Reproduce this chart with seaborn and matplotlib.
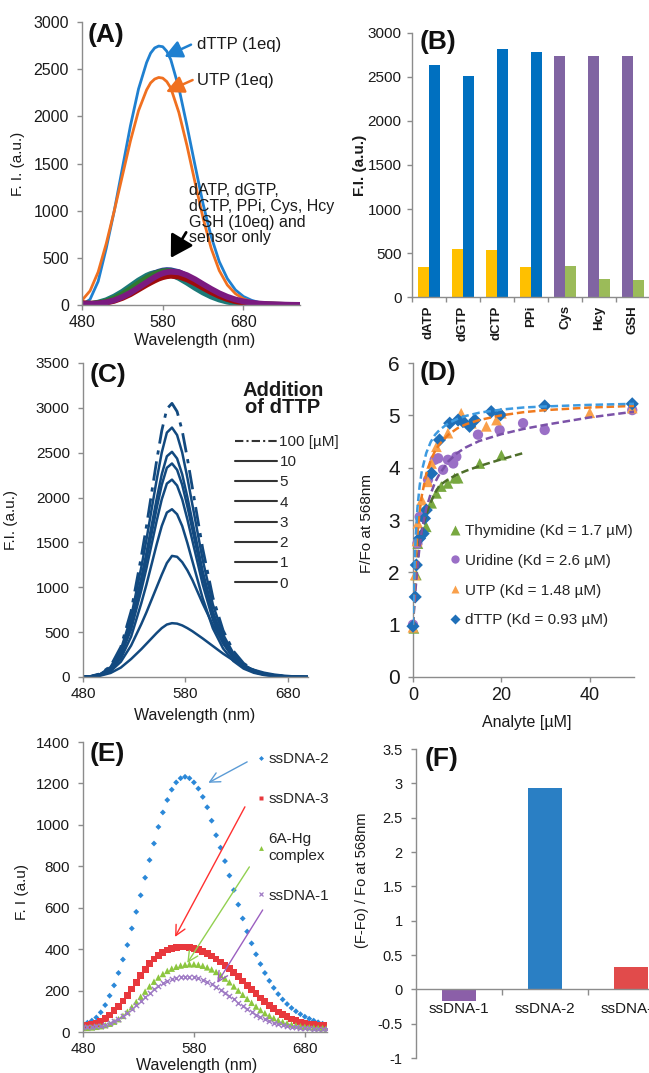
import matplotlib
matplotlib.use("Agg")
import numpy as np
import pandas as pd
import matplotlib.pyplot as plt
import seaborn as sns
from matplotlib.lines import Line2D
from matplotlib.ticker import FuncFormatter

sns.set_theme(style="ticks")
plt.rcParams['font.family'] = ['Liberation Sans', 'DejaVu Sans']

# ---------------- data ----------------
# (A) emission spectra
wl_a = [480, 490, 500, 510, 520, 530, 540, 550, 560, 565, 570, 575, 580, 585, 590,
        600, 610, 620, 630, 640, 650, 660, 670, 680, 690, 700, 710, 720, 730, 740, 750]
dttp_a = [0, 60, 250, 600, 1000, 1450, 1900, 2290, 2570, 2670, 2725, 2745, 2738, 2690, 2600,
          2300, 1900, 1480, 1070, 725, 460, 280, 160, 90, 50, 25, 10, 5, 2, 0, 0]
utp_a = [50, 150, 350, 650, 1000, 1370, 1740, 2060, 2280, 2355, 2395, 2412, 2405, 2368, 2300,
         2040, 1690, 1300, 920, 600, 365, 212, 120, 65, 35, 18, 8, 3, 1, 0, 0]
other_1 = [5, 10, 25, 50, 90, 140, 200, 260, 310, 328, 340, 345, 343, 336, 325,
           287, 237, 182, 132, 90, 58, 35, 20, 12, 7, 4, 2, 1, 0, 0, 0]
other_2 = [3, 6, 15, 33, 62, 105, 160, 222, 282, 310, 335, 353, 365, 370, 368,
           348, 307, 255, 198, 146, 101, 66, 41, 25, 15, 9, 5, 3, 1, 0, 0]
other_3 = [5, 8, 18, 38, 70, 115, 170, 230, 285, 310, 330, 346, 356, 360, 358,
           337, 297, 247, 192, 142, 98, 64, 40, 24, 14, 8, 4, 2, 1, 0, 0]
other_4 = [20, 15, 15, 25, 45, 75, 115, 165, 215, 238, 260, 280, 295, 305, 310,
           302, 272, 230, 182, 136, 96, 64, 41, 25, 15, 9, 5, 3, 1, 0, 0]
other_5 = [10, 10, 15, 28, 50, 85, 130, 185, 240, 268, 295, 318, 336, 348, 353,
           346, 316, 272, 220, 170, 124, 87, 58, 38, 24, 15, 9, 6, 4, 2, 1]

# (B) bar chart
b_cats = ['dATP', 'dGTP', 'dCTP', 'PPi', 'Cys', 'Hcy', 'GSH']
b_first = [337, 549, 538, 345, 2735, 2735, 2735]
b_second = [2633, 2508, 2814, 2780, 352, 208, 197]

# (C) titration spectra
wl_c = [477, 487, 497, 507, 517, 527, 537, 542, 547, 552, 557, 562, 567, 572, 577, 582, 587,
        597, 607, 617, 627, 637, 647, 657, 667, 677, 687, 697, 702]
c_0 = [0, 4, 15, 45, 105, 200, 310, 370, 430, 490, 545, 585, 600, 595, 575, 545, 510,
       430, 345, 260, 185, 125, 80, 48, 27, 14, 6, 2, 1]
c_1 = [0, 4, 20, 65, 170, 350, 590, 720, 860, 1000, 1140, 1270, 1350, 1340, 1280, 1190, 1080,
       820, 580, 380, 230, 130, 70, 36, 18, 8, 3, 0, 0]
c_2 = [0, 4, 22, 75, 206, 449, 823, 1029, 1253, 1477, 1683, 1833, 1870, 1814, 1683, 1496, 1290,
       879, 542, 318, 178, 94, 47, 22, 11, 6, 2, 0, 0]
c_3 = [0, 4, 26, 88, 242, 528, 968, 1210, 1474, 1738, 1980, 2156, 2200, 2134, 1980, 1760, 1518,
       1034, 638, 374, 209, 110, 55, 26, 13, 7, 2, 0, 0]
c_4 = [0, 5, 29, 95, 262, 571, 1047, 1309, 1595, 1880, 2142, 2332, 2380, 2309, 2142, 1904, 1642,
       1119, 690, 405, 226, 119, 60, 29, 14, 7, 2, 0, 0]
c_5 = [0, 5, 30, 100, 276, 602, 1104, 1381, 1682, 1983, 2259, 2460, 2510, 2435, 2259, 2008, 1732,
       1180, 728, 427, 238, 126, 63, 30, 15, 8, 3, 0, 0]
c_10 = [0, 6, 33, 111, 306, 667, 1223, 1529, 1863, 2196, 2502, 2724, 2780, 2697, 2502, 2224, 1918,
        1307, 806, 473, 264, 139, 70, 33, 17, 8, 3, 0, 0]
c_100 = [0, 6, 37, 122, 336, 732, 1342, 1678, 2044, 2410, 2745, 2989, 3050, 2959, 2745, 2440, 2105,
         1434, 885, 519, 290, 153, 76, 37, 18, 9, 3, 0, 0]
c_labels = ['100 [µM]', '10', '5', '4', '3', '2', '1', '0']

# (D) binding curves
thy_x = [0.2, 0.75, 1.1, 3.0, 4.2, 5.3, 6.4, 7.9, 9.4, 10.2, 15.1, 20.0]
thy_y = [0.93, 1.95, 2.55, 2.87, 3.32, 3.51, 3.64, 3.70, 3.80, 3.80, 4.08, 4.24]
uri_x = [0, 1.0, 1.5, 3.4, 4.9, 5.7, 6.8, 7.9, 9.1, 9.8, 14.7, 19.6, 24.9, 29.8, 49.6]
uri_y = [1.0, 2.55, 3.06, 3.77, 4.15, 4.18, 3.96, 4.15, 4.08, 4.21, 4.63, 4.72, 4.85, 4.72, 5.10]
utp_x = [0, 0.5, 0.9, 1.1, 2.0, 3.4, 4.2, 5.3, 7.9, 10.9, 13.2, 16.6, 18.9, 20.0, 40.0, 49.6]
utp_y = [0.95, 1.95, 2.6, 2.94, 3.38, 3.73, 4.08, 4.40, 4.66, 5.04, 4.85, 4.79, 4.91, 5.04, 5.05, 5.14]
dttp_x = [0, 0.5, 0.75, 1.5, 2.3, 2.6, 3.0, 4.2, 6.0, 8.3, 10.2, 11.3, 12.8, 14.0, 17.7, 19.8, 29.8, 49.6]
dttp_y = [0.97, 1.53, 2.14, 2.65, 2.74, 3.03, 3.19, 3.89, 4.53, 4.85, 4.91, 4.88, 4.79, 4.91, 5.07, 5.01, 5.18, 5.22]
fit_x = [0, 0.5, 1, 1.5, 2, 3, 4, 5, 6, 8, 10, 12, 15, 20, 25, 30, 40, 50]
dttp_fit = [1.0, 2.50, 3.23, 3.65, 3.94, 4.28, 4.49, 4.63, 4.72, 4.85, 4.93, 4.99, 5.05, 5.11, 5.15, 5.17, 5.20, 5.22]
utp_fit = [1.0, 2.09, 2.73, 3.16, 3.47, 3.88, 4.14, 4.32, 4.45, 4.63, 4.75, 4.83, 4.91, 5.00, 5.06, 5.10, 5.15, 5.18]
uri_fit = [1.0, 1.60, 2.10, 2.50, 2.80, 3.22, 3.50, 3.72, 3.88, 4.12, 4.28, 4.39, 4.51, 4.64, 4.74, 4.82, 4.96, 5.07]
thy_fit_x = [0, 0.5, 1, 1.5, 2, 3, 4, 5, 6, 8, 10, 12, 15, 20, 25]
thy_fit = [1.0, 1.75, 2.22, 2.55, 2.79, 3.11, 3.34, 3.52, 3.66, 3.78, 3.87, 3.94, 4.03, 4.16, 4.28]
d_labels = ['Thymidine (Kd = 1.7 µM)', 'Uridine (Kd = 2.6 µM)', 'UTP (Kd = 1.48 µM)', 'dTTP (Kd = 0.93 µM)']

# (E) ssDNA spectra
wl_e = list(range(480, 701, 4))
ss2 = [40, 45, 55, 70, 95,
       130, 175, 225, 285, 350, 420, 500, 580, 660, 745, 830, 910, 990, 1060, 1120, 1170, 1205, 1225,
       1232, 1225, 1205, 1175, 1135, 1085, 1020,
       950, 890, 825, 755, 685, 615, 548, 485, 428, 375, 328, 285, 247, 213, 183, 157, 135, 116, 100,
       86, 74, 64, 55, 47, 40,
       34]
ss3 = [30, 32, 36, 42, 52,
       65, 82, 102, 125, 150, 178, 208, 240, 272, 302, 330, 352, 370, 385, 396, 403, 408, 410, 410,
       408, 404, 398, 390, 380, 367,
       352, 338, 322, 305, 287, 267, 246, 225, 204, 184, 164, 146, 128, 112, 97, 84, 73, 63, 55, 48,
       43, 39, 36, 34, 32,
       30]
hg6a = [20, 20, 22, 25, 28,
        33, 40, 50, 62, 78, 98, 120, 145, 170, 195, 220, 243, 263, 280, 295, 306, 315, 321, 325, 327,
        327, 325, 320, 312, 302,
        290, 275, 258, 240, 220, 200, 180, 160, 141, 123, 106, 91, 78, 67, 57, 49, 42, 36, 32, 28,
        25, 23, 21, 20, 19,
        18]
ss1 = [22, 22, 24, 27, 31,
       36, 43, 52, 63, 77, 93, 111, 131, 151, 171, 190, 207, 222, 235, 246, 254, 260, 264, 266, 266,
       264, 259, 252, 243, 232,
       219, 205, 190, 174, 158, 142, 126, 111, 97, 84, 72, 62, 53, 45, 39, 33, 29, 25, 22, 20,
       18, 17, 16, 15, 14,
       14]
e_labels = ['ssDNA-2', 'ssDNA-3', '6A-Hg\ncomplex', 'ssDNA-1']

# (F) bar chart
f_cats = ['ssDNA-1', 'ssDNA-2', 'ssDNA-3']
f_vals = [-0.17, 2.93, 0.33]

# ---------------- layout ----------------
W, H = 649, 1073
fig = plt.figure(figsize=(W / 100, H / 100), dpi=100)


def add_axes_px(left, right, top, bottom):
    return fig.add_axes([left / W, 1 - bottom / H, (right - left) / W, (bottom - top) / H])


axA = add_axes_px(82, 300, 22, 305)
axB = add_axes_px(412, 650, 33, 297)
axC = add_axes_px(83, 308, 363, 677)
axD = add_axes_px(413, 634, 363, 677)
axE = add_axes_px(83, 327, 742, 1032)
axF = add_axes_px(416, 674, 749, 1058)

GRAY = '#8c8c8c'
TXT = '#1a1a1a'


def style(ax, size=11):
    ax.set_facecolor('none')
    for s in ['top', 'right']:
        ax.spines[s].set_visible(False)
    for s in ['left', 'bottom']:
        ax.spines[s].set_color(GRAY)
        ax.spines[s].set_linewidth(1.0)
    ax.tick_params(axis='both', which='both', direction='out', color=GRAY, length=3.5,
                   width=1, labelsize=size, labelcolor=TXT, pad=6)
    ax.tick_params(axis='x', pad=3.5)


def letter(ax, txt, x, y):
    ax.text(x, y, txt, transform=ax.transAxes, fontsize=19, fontweight='bold',
            ha='left', va='top', color='#111111')


# ---------------- (A) ----------------
BLUE_A = '#1f80d0'
ORANGE_A = '#f07020'
sns.lineplot(x=wl_a, y=dttp_a, ax=axA, color=BLUE_A, lw=2)
sns.lineplot(x=wl_a, y=utp_a, ax=axA, color=ORANGE_A, lw=2)
for vals, col in zip([other_1, other_2, other_3, other_4, other_5],
                     ['#1b7a78', '#2b3f9a', '#2f7a2f', '#9e0c0c', '#7b1a80']):
    sns.lineplot(x=wl_a, y=vals, ax=axA, color=col, lw=4.2)
style(axA, 11.5)
axA.set_xlim(480, 750)
axA.set_ylim(0, 3000)
axA.set_xticks([480, 580, 680])
axA.set_yticks(range(0, 3001, 500))
axA.set_ylabel('F. I. (a.u.)', fontsize=11, color=TXT)
axA.yaxis.set_label_coords(-0.262, 0.5)
axA.set_xlabel('Wavelength (nm)', fontsize=11.5, color=TXT)
axA.xaxis.set_label_coords(0.518, -0.098)
letter(axA, '(A)', 0.028, 0.995)
axA.annotate('', xy=(582, 2630), xytext=(615, 2760),
             arrowprops=dict(arrowstyle='-|>,head_length=0.9,head_width=0.45', color=BLUE_A,
                             lw=1.8, shrinkA=0, shrinkB=0))
axA.text(623, 2760, 'dTTP (1eq)', fontsize=12, va='center', ha='left', color=TXT)
axA.annotate('', xy=(584, 2258), xytext=(617, 2385),
             arrowprops=dict(arrowstyle='-|>,head_length=0.9,head_width=0.45', color=ORANGE_A,
                             lw=1.8, shrinkA=0, shrinkB=0))
axA.text(623, 2385, 'UTP (1eq)', fontsize=12, va='center', ha='left', color=TXT)
axA.annotate('', xy=(590, 500), xytext=(609, 770),
             arrowprops=dict(arrowstyle='-|>,head_length=1.1,head_width=0.65', color='black',
                             lw=2.0, shrinkA=0, shrinkB=0))
axA.text(613, 1290, 'dATP, dGTP,\ndCTP, PPi, Cys, Hcy\nGSH (10eq) and\nsensor only',
         fontsize=11.5, va='top', ha='left', linespacing=1.05, color=TXT)

# ---------------- (B) ----------------
df_b = pd.DataFrame({'cat': b_cats * 2,
                     'side': ['L'] * len(b_cats) + ['R'] * len(b_cats),
                     'val': b_first + b_second})
sns.barplot(data=df_b, x='cat', y='val', hue='side', order=b_cats, hue_order=['L', 'R'],
            palette=['#FFC000', '#0070C0'], width=0.62, saturation=1, errorbar=None,
            legend=False, linewidth=0, ax=axB)
left_cols = ['#FFC000'] * 4 + ['#8064A2'] * 3
right_cols = ['#0070C0'] * 4 + ['#9BBB59'] * 3
for p, c in zip(axB.containers[0], left_cols):
    p.set_facecolor(c)
for p, c in zip(axB.containers[1], right_cols):
    p.set_facecolor(c)
style(axB, 11)
axB.tick_params(axis='y', pad=4)
axB.set_xlim(-0.5, len(b_cats) - 0.5)
axB.set_ylim(0, 3000)
axB.set_yticks(range(0, 3001, 500))
axB.set_xticks(np.arange(-0.5, len(b_cats), 1.0), minor=True)
axB.tick_params(axis='x', which='major', length=0, pad=6, labelsize=9.5)
for t in axB.get_xticklabels():
    t.set_rotation(90)
    t.set_fontweight('bold')
axB.set_xlabel('')
axB.set_ylabel('F.I. (a.u.)', fontsize=11, fontweight='bold', color=TXT)
axB.yaxis.set_label_coords(-0.19, 0.5)
letter(axB, '(B)', 0.034, 1.01)

# ---------------- (C) ----------------
CBLUE = '#12497f'
for vals in [c_0, c_1, c_2, c_3, c_4, c_5, c_10]:
    sns.lineplot(x=wl_c, y=vals, ax=axC, color=CBLUE, lw=1.8)
sns.lineplot(x=wl_c, y=c_100, ax=axC, color=CBLUE, lw=2.0, linestyle=(0, (7, 2.5, 1.5, 2.5)))
style(axC, 11)
axC.set_xlim(480, 700)
axC.set_ylim(0, 3500)
axC.set_xticks([480, 580, 680])
axC.set_yticks(range(0, 3501, 500))
axC.set_ylabel('F.I. (a.u.)', fontsize=11, color=TXT)
axC.yaxis.set_label_coords(-0.29, 0.5)
axC.set_xlabel('Wavelength (nm)', fontsize=11.5, color=TXT)
axC.xaxis.set_label_coords(0.498, -0.1)
letter(axC, '(C)', 0.031, 1.0)
axC.text(0.889, 0.885, 'Addition\nof dTTP', transform=axC.transAxes, ha='center', va='center',
         fontsize=14.5, fontweight='bold', linespacing=0.9, color=TXT)
c_handles = [Line2D([], [], color='#333333', lw=1.5, linestyle=(0, (4, 1.5, 1, 1.5)))] + \
            [Line2D([], [], color='#333333', lw=1.5) for _ in range(7)]
axC.legend(c_handles, c_labels, loc='upper left', bbox_to_anchor=(0.676, 0.771),
           frameon=False, fontsize=11, handlelength=2.75, handletextpad=0.15,
           labelspacing=0.41, borderpad=0, borderaxespad=0)

# ---------------- (D) ----------------
G_D, P_D, O_D, B_D = '#78a840', '#9a6fc6', '#f9a04b', '#1f6fb8'
sns.scatterplot(x=thy_x, y=thy_y, ax=axD, marker='^', s=60, color=G_D, edgecolor='none', zorder=3)
sns.scatterplot(x=uri_x, y=uri_y, ax=axD, marker='o', s=55, color=P_D, edgecolor='none', zorder=3)
sns.scatterplot(x=utp_x, y=utp_y, ax=axD, marker='^', s=60, color=O_D, edgecolor='none', zorder=3)
sns.scatterplot(x=dttp_x, y=dttp_y, ax=axD, marker='D', s=45, color=B_D, edgecolor='none', zorder=3)
for coll in axD.collections:
    coll.set_clip_on(False)
sns.lineplot(x=thy_fit_x, y=thy_fit, ax=axD, color='#4e6e2a', lw=1.8,
             linestyle=(0, (3, 1.5)), zorder=4)
sns.lineplot(x=fit_x, y=uri_fit, ax=axD, color='#7b52a8', lw=1.8, linestyle=(0, (3, 1.5)), zorder=4)
sns.lineplot(x=fit_x, y=utp_fit, ax=axD, color='#f07a1e', lw=1.8, linestyle=(0, (3, 1.5)), zorder=4)
sns.lineplot(x=fit_x, y=dttp_fit, ax=axD, color='#3d9ae0', lw=1.8, linestyle=(0, (3, 1.5)), zorder=4)
style(axD, 15)
axD.tick_params(axis='x', labelsize=13)
axD.set_xlim(0, 50)
axD.set_ylim(0, 6)
axD.set_xticks([0, 20, 40])
axD.set_yticks(range(0, 7))
axD.set_ylabel('F/Fo at 568nm', fontsize=11, color=TXT)
axD.yaxis.set_label_coords(-0.176, 0.49)
axD.set_xlabel('Analyte [µM]', fontsize=11.5, color=TXT)
axD.xaxis.set_label_coords(0.516, -0.12)
letter(axD, '(D)', 0.032, 1.005)
d_handles = [Line2D([], [], ls='', marker='^', ms=7, color=G_D, mec='none'),
             Line2D([], [], ls='', marker='o', ms=6, color=P_D, mec='none'),
             Line2D([], [], ls='', marker='^', ms=6, color=O_D, mec='none'),
             Line2D([], [], ls='', marker='D', ms=5, color=B_D, mec='none')]
axD.legend(d_handles, d_labels, loc='upper left', bbox_to_anchor=(0.163, 0.487), frameon=False,
           fontsize=11, handlelength=0.8, handletextpad=0.26, labelspacing=1.03,
           borderpad=0, borderaxespad=0)

# ---------------- (E) ----------------
BE, RE, GE, PE = '#2b88d8', '#e8383d', '#8cc63f', '#a07cc5'
sns.scatterplot(x=wl_e, y=ss2, ax=axE, marker='D', s=9, color=BE, edgecolor='none')
sns.scatterplot(x=wl_e, y=ss3, ax=axE, marker='s', s=24, color=RE, edgecolor='none')
sns.scatterplot(x=wl_e, y=hg6a, ax=axE, marker='^', s=22, color=GE, edgecolor='none')
sns.scatterplot(x=wl_e, y=ss1, ax=axE, marker='x', s=14, color=PE, linewidth=1.0)
style(axE, 11)
axE.set_xlim(480, 700)
axE.set_ylim(0, 1400)
axE.set_xticks([480, 580, 680])
axE.set_yticks(range(0, 1401, 200))
axE.set_ylabel('F. I (a.u)', fontsize=11, color=TXT)
axE.yaxis.set_label_coords(-0.221, 0.483)
axE.set_xlabel('Wavelength (nm)', fontsize=11.5, color=TXT)
axE.xaxis.set_label_coords(0.467, -0.09)
letter(axE, '(E)', 0.029, 1.0)
for tail, tip, col in [((628, 1304), (593, 1203), '#5b9bd5'),
                       ((626, 1087), (563, 459), '#ff3030'),
                       ((630, 797), (574, 333), '#92d050'),
                       ((642, 589), (601, 237), '#9b5fc0')]:
    axE.annotate('', xy=tip, xytext=tail,
                 arrowprops=dict(arrowstyle='->,head_length=0.6,head_width=0.3', color=col,
                                 lw=1.0, shrinkA=0, shrinkB=0))
e_handles = [Line2D([], [], ls='', marker='D', ms=2.5, color=BE, mec='none'),
             Line2D([], [], ls='', marker='s', ms=3.5, color=RE, mec='none'),
             Line2D([], [], ls='', marker='^', ms=3.5, color=GE, mec='none'),
             Line2D([], [], ls='', marker='x', ms=3.5, color=PE, mew=0.9)]
axE.legend(e_handles, e_labels, loc='upper left', bbox_to_anchor=(0.711, 0.964), frameon=False,
           fontsize=11, handlelength=0.6, handletextpad=0.2, labelspacing=1.7,
           borderpad=0, borderaxespad=0)

# ---------------- (F) ----------------
sns.barplot(x=f_cats, y=f_vals, hue=f_cats, palette=['#8b5fa8', '#2a7fc4', '#e14b4b'],
            width=0.4, saturation=1, errorbar=None, legend=False, linewidth=0, ax=axF)
style(axF, 10.5)
axF.spines['bottom'].set_position(('data', 0))
axF.set_xlim(-0.5, 2.5)
axF.set_ylim(-1, 3.5)
axF.set_yticks(np.arange(-1, 3.51, 0.5))
axF.yaxis.set_major_formatter(FuncFormatter(lambda v, p: f'{v:g}'))
axF.set_xticks([0.5, 1.5], minor=True)
axF.tick_params(axis='x', which='major', length=0, pad=9, labelsize=11)
axF.tick_params(axis='x', which='minor', length=4)
axF.set_ylabel('(F-Fo) / Fo at 568nm', fontsize=10.5, color=TXT)
axF.yaxis.set_label_coords(-0.182, 0.576)
axF.set_xlabel('')
letter(axF, '(F)', 0.035, 1.005)

fig.savefig('out.png', dpi=100)
